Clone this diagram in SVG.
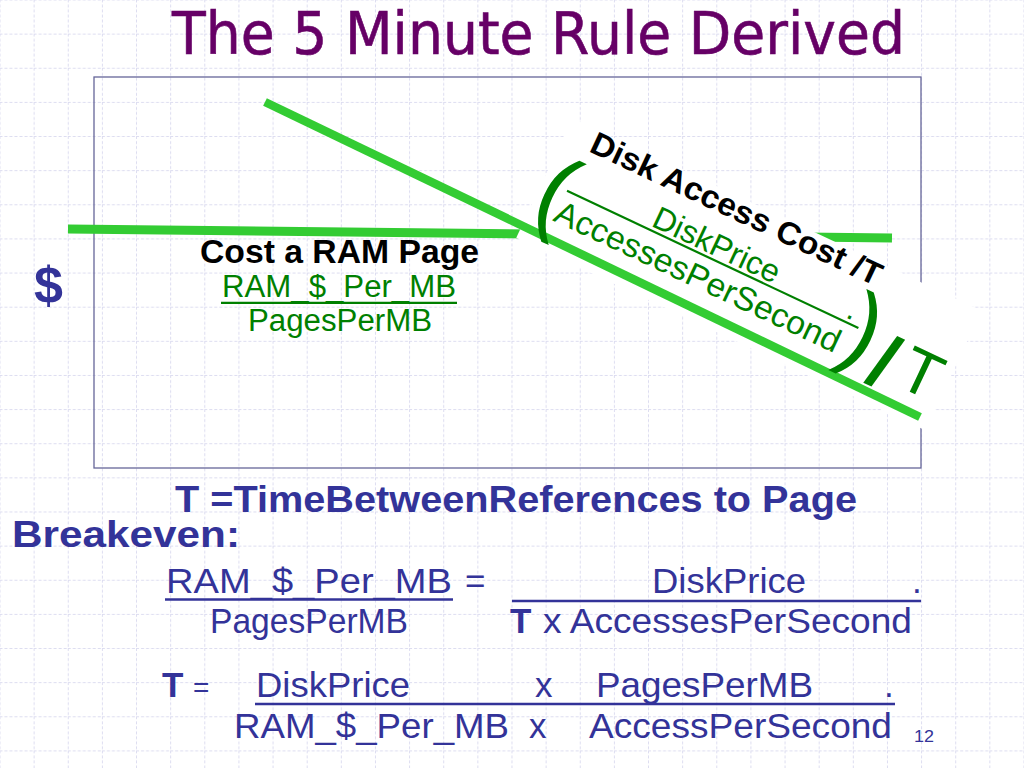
<svg xmlns="http://www.w3.org/2000/svg" width="1024" height="768" viewBox="0 0 1024 768">
<defs>
<pattern id="grid" width="34.133" height="34.133" patternUnits="userSpaceOnUse" x="-0.5" y="-0.5">
<path d="M0.5 0 V34.133 M0 0.5 H34.133" fill="none" stroke="#dcdcf0" stroke-width="1" stroke-dasharray="3 2"/>
</pattern>
<style>
.navy{fill:#333399;font-family:"Liberation Sans",Arial,sans-serif}
.b{font-weight:bold}
.grn{fill:#008000;font-family:"Liberation Sans",Arial,sans-serif}
.blk{fill:#000;font-family:"Liberation Sans",Arial,sans-serif;font-weight:bold}
.bright{stroke:#33cc33;fill:none}
.ul{stroke:#333399;stroke-width:2.5}
.gul{stroke:#008000;stroke-width:2.2}
</style>
</defs>
<rect width="1024" height="768" fill="#ffffff"/>
<rect width="1024" height="768" fill="url(#grid)"/>

<g id="title">
<text x="172" y="54" font-family="Tahoma,'DejaVu Sans',sans-serif" font-size="58" fill="#660066" stroke="#660066" stroke-width="0.6" textLength="733" lengthAdjust="spacingAndGlyphs">The 5 Minute Rule Derived</text>
</g>

<g id="chart-frame">
<rect x="94" y="77" width="827" height="391" fill="none" stroke="#666699" stroke-width="1.3"/>
</g>

<g id="ram-cost-line">
<line class="bright" x1="68" y1="229" x2="892" y2="238" stroke-width="9"/>
</g>

<g id="disk-callout-bg" transform="translate(588,151) rotate(25.2)">
<rect x="-28" y="-23" width="452" height="132" fill="#ffffff"/>
</g>

<g id="disk-cost-line">
<line class="bright" x1="265" y1="102" x2="920" y2="417" stroke-width="8.5"/>
</g>

<g id="dollar-axis">
<text class="navy b" x="34" y="303" font-size="52">$</text>
</g>

<g id="ram-page-label">
<text class="blk" x="200" y="263" font-size="33" textLength="279" lengthAdjust="spacingAndGlyphs">Cost a RAM Page</text>
<text class="grn" x="222" y="297" font-size="31" textLength="234" lengthAdjust="spacingAndGlyphs">RAM_$_Per_MB</text>
<line class="gul" x1="221" y1="302.8" x2="457" y2="302.8"/>
<text class="grn" x="248" y="331" font-size="31" textLength="184" lengthAdjust="spacingAndGlyphs">PagesPerMB</text>
</g>

<g id="disk-callout" transform="translate(588,151) rotate(25.2)">
<text class="blk" x="0" y="0" font-size="32" textLength="318" lengthAdjust="spacingAndGlyphs">Disk Access Cost /T</text>
<text class="grn" x="-27" y="82" font-size="96">(</text>
<text class="grn" x="88" y="41" font-size="32" textLength="137" lengthAdjust="spacingAndGlyphs">DiskPrice</text>
<text class="grn" x="303" y="41" font-size="32">.</text>
<line class="gul" x1="-2" y1="45" x2="320" y2="45"/>
<text class="grn" x="-3" y="78" font-size="33" textLength="312" lengthAdjust="spacingAndGlyphs">AccessesPerSecond</text>
<text class="grn" x="310" y="76" font-size="96">)</text>
<text class="grn" x="347" y="91" font-size="76" font-weight="bold">/</text>
<text class="grn" x="377" y="81" font-size="64">T</text>
</g>

<g id="t-definition">
<text class="navy b" x="175" y="512" font-size="37" textLength="682" lengthAdjust="spacingAndGlyphs">T =TimeBetweenReferences to Page</text>
</g>

<g id="breakeven">
<text class="navy b" x="12" y="547" font-size="37" textLength="228" lengthAdjust="spacingAndGlyphs">Breakeven:</text>
</g>

<g id="equation-1">
<text class="navy" x="166" y="593" font-size="35" textLength="286" lengthAdjust="spacingAndGlyphs">RAM_$_Per_MB</text>
<line class="ul" x1="165" y1="599.5" x2="453" y2="599.5"/>
<text class="navy" x="465" y="593" font-size="35">=</text>
<line class="ul" x1="512" y1="601" x2="921" y2="601"/>
<text class="navy" x="652" y="593" font-size="35" textLength="154" lengthAdjust="spacingAndGlyphs">DiskPrice</text>
<text class="navy" x="912" y="593" font-size="35">.</text>
<text class="navy" x="210" y="633" font-size="35" textLength="198" lengthAdjust="spacingAndGlyphs">PagesPerMB</text>
<text class="navy b" x="510" y="633" font-size="35">T</text>
<text class="navy" x="543" y="633" font-size="35" textLength="369" lengthAdjust="spacingAndGlyphs">x AccessesPerSecond</text>
</g>

<g id="equation-2">
<text class="navy b" x="162" y="697" font-size="35">T</text>
<text class="navy" x="193" y="697" font-size="28">=</text>
<line class="ul" x1="255" y1="704" x2="895" y2="704"/>
<text class="navy" x="256" y="697" font-size="35" textLength="154" lengthAdjust="spacingAndGlyphs">DiskPrice</text>
<text class="navy" x="535" y="697" font-size="35">x</text>
<text class="navy" x="596" y="697" font-size="35" textLength="217" lengthAdjust="spacingAndGlyphs">PagesPerMB</text>
<text class="navy" x="884" y="697" font-size="35">.</text>
<text class="navy" x="234" y="738" font-size="35" textLength="275" lengthAdjust="spacingAndGlyphs">RAM_$_Per_MB</text>
<text class="navy" x="529" y="738" font-size="35">x</text>
<text class="navy" x="589" y="738" font-size="35" textLength="303" lengthAdjust="spacingAndGlyphs">AccessPerSecond</text>
</g>

<g id="page-number">
<text class="navy" x="914" y="742" font-size="17" textLength="20" lengthAdjust="spacingAndGlyphs">12</text>
</g>
</svg>
